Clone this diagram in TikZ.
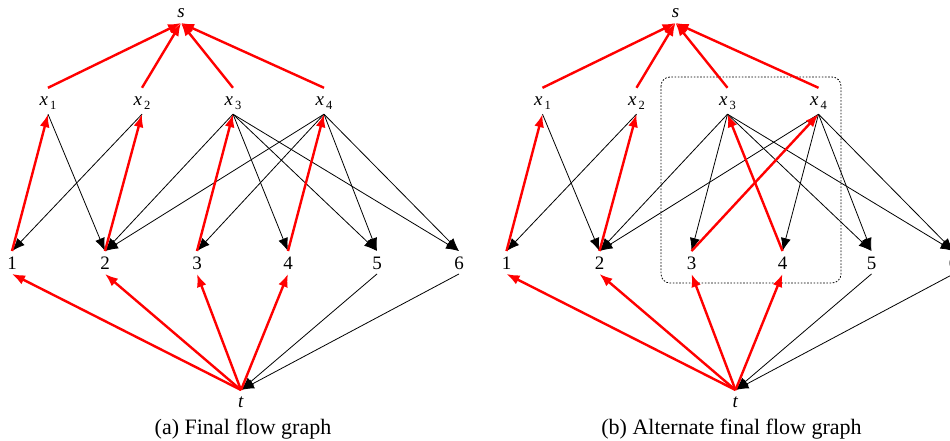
\documentclass[tikz,border=0pt]{standalone}
\usepackage{fontspec}
\setmainfont{Liberation Serif}
\usetikzlibrary{arrows.meta}
\newcommand{\xsub}[1]{\textit{x}\kern2pt\raisebox{-4pt}{\fontsize{12.5}{12.5}\selectfont #1}}

\begin{document}
\begin{tikzpicture}[x=1pt,y=-1pt,
  lb/.style={font=\fontsize{19}{22}\selectfont,inner sep=0pt},
  xn/.style={lb,text height=18pt,text depth=8pt},
  nb/.style={lb,text height=13.5pt,text depth=0pt,inner ysep=4.5pt},
  bk/.style={-{Latex[length=13pt,width=10pt]},line width=0.8pt,black},
  rd/.style={-{Latex[length=13pt,width=10pt]},line width=2.4pt,red},
  box/.style={draw,line width=0.8pt,dash pattern=on 1.6pt off 1.6pt,rounded corners=9pt},
  capt/.style={font=\fontsize{22}{26}\selectfont,anchor=base}]
\useasboundingbox (0,0) rectangle (950,441);
% ---------------- nodes of both panels
\foreach \p/\dx in {a/0,b/494.5}{
  \node[lb,anchor=south,text depth=5pt] (\p-s) at (\dx+181,23) {\textit{s}};
  \foreach \i/\px in {1/48,2/142,3/233,4/324}
    \node[xn] (\p-x\i) at (\dx+\px,101) {\xsub{\i}};
  \foreach \j/\px in {1/12,2/105,3/197,4/288,5/377,6/459}
    \node[nb] (\p-\j) at (\dx+\px,262.5) {\j};
  \node[lb,anchor=north,text height=17pt] (\p-t) at (\dx+241,390) {\textit{t}};
}
% ---------------- panel (a)
\foreach \u/\v in {1/2,2/1,3/2,3/4,3/5,3/6,4/2,4/3,4/5,4/6}
  \draw[bk] (a-x\u.south) -- (a-\v.north);
\foreach \v in {5,6} \draw[bk] (a-\v.south) -- (a-t.north);
\foreach \i in {1,...,4}{
  \draw[rd] (a-x\i.north) -- (a-s.south);
  \draw[rd] (a-\i.north) -- (a-x\i.south);
  \draw[rd] (a-t.north) -- (a-\i.south);
}
\node[capt] (capa) at (243,434) {(a) Final flow graph};
% ---------------- panel (b)
\draw[box] (661,77) rectangle (841,283);
\foreach \u/\v in {1/2,2/1,3/2,3/3,3/5,3/6,4/2,4/4,4/5,4/6}
  \draw[bk] (b-x\u.south) -- (b-\v.north);
\foreach \v in {5,6} \draw[bk] (b-\v.south) -- (b-t.north);
\foreach \i/\k in {1/1,2/2,3/4,4/3}{
  \draw[rd] (b-x\i.north) -- (b-s.south);
  \draw[rd] (b-\k.north) -- (b-x\i.south);
  \draw[rd] (b-t.north) -- (b-\i.south);
}
\node[capt] (capb) at (731.5,434) {(b) Alternate final flow graph};
\end{tikzpicture}
\end{document}
